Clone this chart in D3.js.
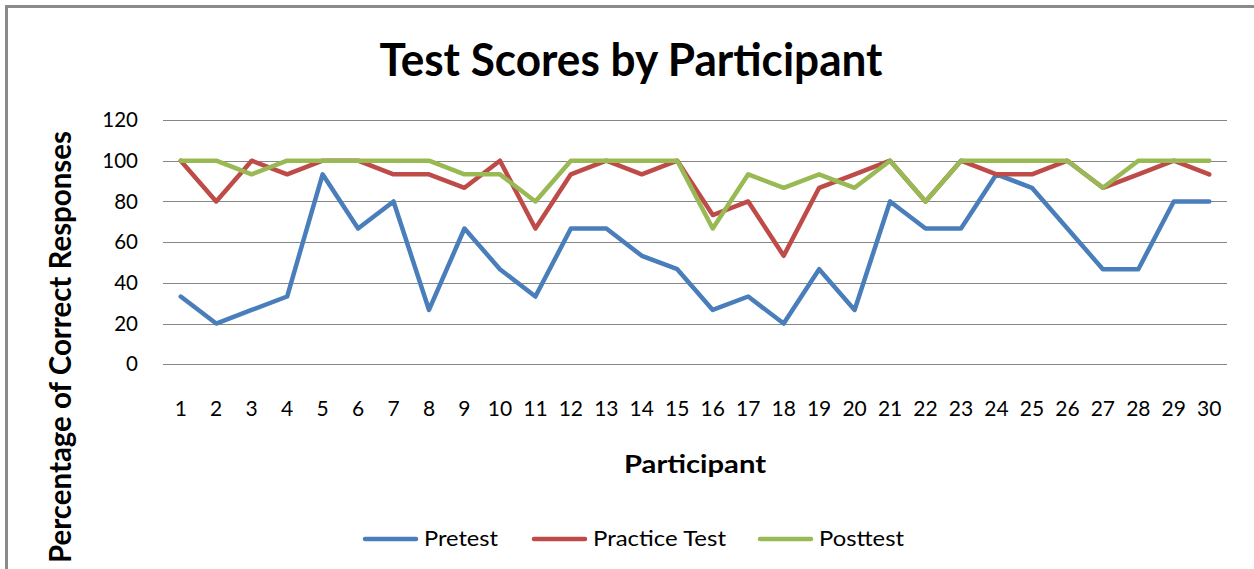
<!DOCTYPE html>
<html>
<head>
<meta charset="utf-8">
<script src="https://cdn.jsdelivr.net/npm/d3@7"></script>
<style>
  html, body { margin: 0; padding: 0; background: #fff; }
  svg { display: block; }
  text { font-family: Lato, "Open Sans", sans-serif; fill: #000; }
</style>
</head>
<body>
<svg id="chart" width="1254" height="569"></svg>
<script>
const participants = d3.range(1, 31).map(String);
const pretest = [33.3, 20, 26.7, 33.3, 93.3, 66.7, 80, 26.7, 66.7, 46.7,
                 33.3, 66.7, 66.7, 53.3, 46.7, 26.7, 33.3, 20, 46.7, 26.7,
                 80, 66.7, 66.7, 93.3, 86.7, 66.7, 46.7, 46.7, 80, 80];
const practiceTest = [100, 80, 100, 93.3, 100, 100, 93.3, 93.3, 86.7, 100,
                      66.7, 93.3, 100, 93.3, 100, 73.3, 80, 53.3, 86.7, 93.3,
                      100, 80, 100, 93.3, 93.3, 100, 86.7, 93.3, 100, 93.3];
const posttest = [100, 100, 93.3, 100, 100, 100, 100, 100, 93.3, 93.3,
                  80, 100, 100, 100, 100, 66.7, 93.3, 86.7, 93.3, 86.7,
                  100, 80, 100, 100, 100, 100, 86.7, 100, 100, 100];
const yTicks = [0, 20, 40, 60, 80, 100, 120];
const seriesNames = ["Pretest", "Practice Test", "Posttest"];
const seriesColors = ["#4A7EBB", "#BE4B48", "#98B954"];

const series = [pretest, practiceTest, posttest].map((v, i) => ({
  name: seriesNames[i], color: seriesColors[i], values: v
}));

const svg = d3.select("#chart");

// chart frame
svg.append("rect")
  .attr("x", 6.5).attr("y", 6.5)
  .attr("width", 1400).attr("height", 700)
  .attr("fill", "none").attr("stroke", "#8a8a8a").attr("stroke-width", 3);

const x = d3.scaleBand().domain(participants).range([163, 1227]);
const y = d3.scaleLinear().domain([0, 120]).range([364.3, 120]);
const cx = d => x(d) + x.bandwidth() / 2;

// gridlines
svg.append("g").selectAll("line").data(yTicks).join("line")
  .attr("x1", 163).attr("x2", 1227)
  .attr("y1", d => Math.round(y(d)) + 0.5).attr("y2", d => Math.round(y(d)) + 0.5)
  .attr("stroke", "#868686").attr("stroke-width", 1);

// y tick labels
svg.append("g").selectAll("text").data(yTicks).join("text")
  .attr("x", 138).attr("y", d => y(d))
  .attr("dy", "0.35em")
  .attr("text-anchor", "end")
  .style("font-size", "20.5px")
  .text(d => d);

// x tick labels
svg.append("g").selectAll("text").data(participants).join("text")
  .attr("x", d => cx(d)).attr("y", 416)
  .attr("text-anchor", "middle")
  .style("font-size", "21px")
  .text(d => d);

// lines
const line = d3.line()
  .x((d, i) => cx(participants[i]))
  .y(d => y(d));

svg.append("g").selectAll("path").data(series).join("path")
  .attr("d", s => line(s.values))
  .attr("fill", "none")
  .attr("stroke", s => s.color)
  .attr("stroke-width", 4.5)
  .attr("stroke-linejoin", "round")
  .attr("stroke-linecap", "round");

// title
svg.append("text")
  .attr("x", 631).attr("y", 76)
  .attr("text-anchor", "middle")
  .attr("textLength", 503).attr("lengthAdjust", "spacingAndGlyphs")
  .style("font-size", "45px").style("font-weight", "bold")
  .text("Test Scores by Participant");

// x axis title
svg.append("text")
  .attr("x", 695).attr("y", 473)
  .attr("text-anchor", "middle")
  .attr("textLength", 142).attr("lengthAdjust", "spacingAndGlyphs")
  .style("font-size", "25px").style("font-weight", "bold")
  .text("Participant");

// y axis title
svg.append("text")
  .attr("transform", "translate(71,347) rotate(-90)")
  .attr("text-anchor", "middle")
  .attr("textLength", 432).attr("lengthAdjust", "spacingAndGlyphs")
  .style("font-size", "31px").style("font-weight", "bold")
  .text("Percentage of Correct Responses");

// legend
const legendX = [363, 532, 758];
const legendTextLen = [74, 133, 85];
const lg = svg.append("g").selectAll("g").data(series).join("g")
  .attr("transform", (d, i) => `translate(${legendX[i]},539)`);
lg.append("line")
  .attr("x1", 2).attr("x2", 53).attr("y1", 0).attr("y2", 0)
  .attr("stroke", d => d.color).attr("stroke-width", 4.5)
  .attr("stroke-linecap", "round");
lg.append("text")
  .attr("x", 61).attr("y", 7)
  .attr("textLength", (d, i) => legendTextLen[i]).attr("lengthAdjust", "spacingAndGlyphs")
  .style("font-size", "22px")
  .text(d => d.name);
</script>
</body>
</html>
